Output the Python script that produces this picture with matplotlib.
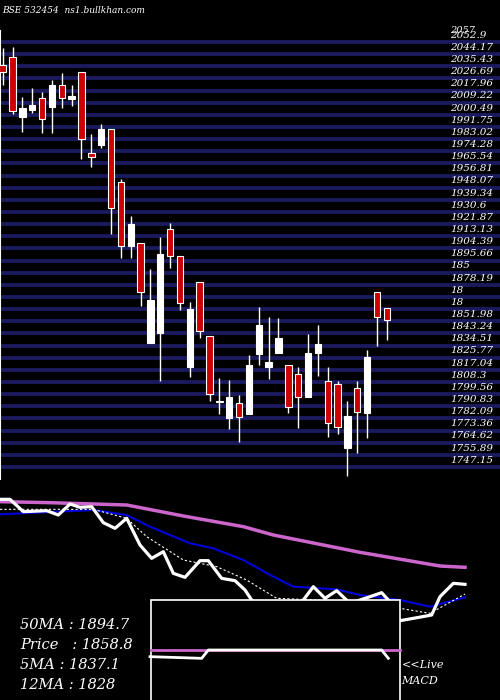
import matplotlib
matplotlib.use("Agg")
import matplotlib.pyplot as plt
import numpy as np

opens  = [2036.4,2042.3,1999.2,2004.0,2012.4,2006.4,2022.0,2012.1,2031.1,1972.8,1978.8,1990.3,1951.9,1906.4,1908.0,1836.1,1843.3,1918.1,1899.2,1819.3,1880.0,1841.6,1793.6,1782.6,1793.4,1785.0,1828.2,1818.8,1828.9,1820.5,1813.8,1797.7,1828.9,1809.0,1806.6,1760.5,1803.7,1785.7,1873.3,1861.3]
closes = [2031.1,2003.3,2005.2,2007.6,1997.3,2022.0,2012.4,2014.0,1982.9,1970.4,1990.3,1933.2,1906.4,1921.9,1872.8,1867.3,1900.4,1899.2,1864.9,1860.8,1845.0,1799.4,1794.6,1797.5,1782.9,1820.5,1849.3,1822.4,1839.7,1790.0,1797.2,1828.9,1835.6,1778.5,1775.7,1783.8,1786.4,1826.0,1854.8,1852.6]
highs  = [2048.3,2049.5,2013.6,2019.6,2017.2,2025.6,2030.4,2022.0,2031.1,1986.7,1993.9,1990.3,1954.3,1927.9,1908.0,1889.6,1912.4,1922.9,1899.2,1866.1,1880.0,1841.6,1810.9,1809.7,1798.9,1827.7,1862.5,1855.3,1854.6,1820.5,1819.3,1842.8,1849.3,1819.3,1809.2,1794.6,1809.2,1831.3,1873.3,1861.3]
lows   = [2022.0,2000.9,1988.4,2001.6,1987.7,1987.7,2005.7,2007.1,1968.5,1963.2,1976.4,1914.5,1897.7,1897.7,1863.2,1836.1,1809.2,1890.5,1860.1,1812.1,1839.7,1794.6,1785.0,1774.2,1765.3,1785.0,1820.5,1810.2,1828.9,1785.7,1774.9,1797.7,1812.8,1768.5,1770.6,1740.9,1757.4,1767.7,1834.4,1838.5]

tick_vals = [2052.9,2044.17,2035.43,2026.69,2017.96,2009.22,2000.49,1991.75,1983.02,1974.28,1965.54,1956.81,1948.07,1939.34,1930.6,1921.87,1913.13,1904.39,1895.66,1886.92,1878.19,1869.45,1860.72,1851.98,1843.24,1834.51,1825.77,1817.04,1808.3,1799.56,1790.83,1782.09,1773.36,1764.62,1755.89,1747.15]
tick_txt = ["2052.9","2044.17","2035.43","2026.69","2017.96","2009.22","2000.49","1991.75","1983.02","1974.28","1965.54","1956.81","1948.07","1939.34","1930.6","1921.87","1913.13","1904.39","1895.66","185","1878.19","18","18","1851.98","1843.24","1834.51","1825.77","1817.04","1808.3","1799.56","1790.83","1782.09","1773.36","1764.62","1755.89","1747.15"]

ma50_x = [0,150,380,550,730,820,1080,1320,1395]
ma50_y = [35,38,45,78,110,135,187,228,232]
ma12_x = [0,280,380,450,570,640,730,820,880,1010,1080,1200,1290,1395]
ma12_y = [73,60,75,110,160,175,210,260,290,298,315,330,350,322]
px_x = [0,30,70,140,175,210,240,275,310,345,380,420,455,490,520,555,600,625,665,705,735,755,800,850,910,940,975,1010,1050,1110,1145,1165,1200,1240,1295,1320,1360,1395]
px_y = [28,28,65,62,75,42,52,50,98,115,85,165,205,185,250,262,212,212,265,272,300,330,360,375,330,290,325,302,340,320,308,330,392,385,375,320,280,283]
ma5_x = [0,280,380,440,550,650,740,830,950,1100,1200,1290,1395]
ma5_y = [58,58,85,140,210,230,270,325,330,340,355,370,312]
macd_x = [450,605,625,1145,1165]
macd_y = [500,505,480,480,505]

fig = plt.figure(figsize=(5,7), dpi=100, facecolor='black')
ax = fig.add_axes([0, (700-480)/700, 1, 450/700], facecolor='black')
ax.set_xlim(-0.274, 50.49)
ax.set_ylim(1737.8, 2061.5)
ax.axis('off')
for v in tick_vals:
    ax.axhline(v, color='#1a1a5e', lw=2.8, zorder=1)
for v, t in zip(tick_vals, tick_txt):
    ax.text(45.4, v+1.6, t, color='white', fontsize=7.5, style='italic', family='DejaVu Serif', va='bottom', ha='left', zorder=5)
ax.text(45.4, 2058.0, "2057", color='white', fontsize=7, style='italic', family='DejaVu Serif', va='bottom', zorder=5)
for i,(o,c,h,l) in enumerate(zip(opens,closes,highs,lows)):
    col = '#cc0000' if c < o else 'white'
    ax.vlines(i, l, h, color='white', lw=1, zorder=3)
    ax.bar(i, abs(c-o) if abs(c-o)>0.8 else 0.8, bottom=min(o,c), width=0.65, color=col, edgecolor='white', lw=0.8, zorder=4)
ax.axvline(-0.274, color='white', lw=1.5)
fig.text(0.005, 0.985, "BSE 532454  ns1.bullkhan.com", color='white', fontsize=6.5, style='italic', family='DejaVu Serif', va='center')

lx = fig.add_axes([0, 0, 1, 210/700], facecolor='black')
lx.set_xlim(0, 1500); lx.set_ylim(630, 0); lx.axis('off')
lx.plot(ma50_x, ma50_y, color='#cc66cc', lw=2.5)
lx.plot(ma12_x, ma12_y, color='#0000dd', lw=1.5)
lx.plot(ma5_x, ma5_y, color='white', lw=0.8, ls=(0,(2,2)))
lx.plot(px_x, px_y, color='white', lw=2.3)
from matplotlib.patches import Rectangle
lx.add_patch(Rectangle((452,331), 748, 310, facecolor='black', edgecolor='white', lw=1.2, zorder=5))
lx.plot([452,1200],[480,480], color='#cc66cc', lw=2, zorder=6)
lx.plot(macd_x, macd_y, color='white', lw=2, zorder=7)
kw = dict(color='white', style='italic', family='DejaVu Serif', zorder=8)
for j, t in enumerate(["50MA : 1894.7","Price   : 1858.8","5MA : 1837.1","12MA : 1828"]):
    lx.text(60, 405+60*j, t, fontsize=10.5, va='center', **kw)
lx.text(1205, 525, "<<Live", fontsize=8, va='center', **kw)
lx.text(1205, 572, "MACD", fontsize=8, va='center', **kw)
fig.savefig("out.png", dpi=100, facecolor='black')
